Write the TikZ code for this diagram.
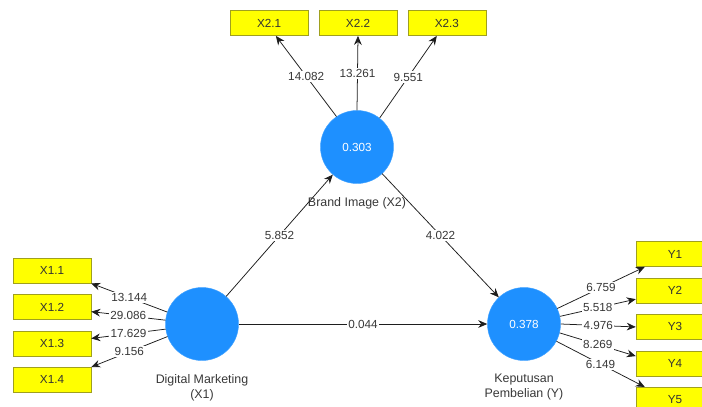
\documentclass[tikz,border=0pt]{standalone}
\usepackage{fontspec}
\setmainfont{Liberation Sans}
\usetikzlibrary{arrows.meta,positioning,calc}
\definecolor{latentblue}{RGB}{30,144,255}
\definecolor{itemyellow}{RGB}{255,255,0}
\definecolor{itemborder}{RGB}{160,160,30}
\definecolor{linkgray}{RGB}{30,30,30}
\def \circleSize {2.19cm}
\def \boxGap {0.32cm}
\def \boxGapX {0.31cm}
\def \captionGap {0.28cm}
\tikzset{
	latent/.style= {circle, fill=latentblue, draw=latentblue!85!white, minimum size=\circleSize, inner sep=0pt, text=white, font=\fontsize{10}{12}\selectfont},
	indicator/.style= {draw=itemborder, fill=itemyellow, rectangle, align=center, minimum width=2.34cm, minimum height=0.76cm, text=black!80, font=\fontsize{10}{12}\selectfont},
	caption/.style= {align=center, text=black!78, font=\fontsize{10.6}{13}\selectfont},
	link/.style= {draw=linkgray, line width=0.65pt, -{Stealth[length=2.7mm, width=2.3mm]}},
	weight/.style= {midway, fill=white, inner sep=1.2pt, text=black!78, font=\fontsize{10}{11}\selectfont}
}

\begin{document}
\begin{tikzpicture}[x=0.03cm, y=-0.03cm]
	\useasboundingbox (0,0) rectangle (702,406);

%%%%%%%%%%%%%%%%%%%%% Latent variables %%%%%%%%%%%%%%%%%%%%%
	\node [latent] (dm) at (202,324) {};
	\node [latent] (bi) at (357,147) {0.303};
	\node [latent] (kp) at (524,324) {0.378};

	\node [caption, below =\captionGap of dm] (dmName) {Digital Marketing\\(X1)};
	\node [caption, below =\captionGap of bi] (biName) {Brand Image (X2)};
	\node [caption, below =\captionGap of kp] (kpName) {Keputusan\\Pembelian (Y)};

%%%%%%%%%%%%%%%%%%%%% Indicators %%%%%%%%%%%%%%%%%%%%%
	\node [indicator] (x11) at (52,270.5) {X1.1};
	\node [indicator, below =\boxGap of x11] (x12) {X1.2};
	\node [indicator, below =\boxGap of x12] (x13) {X1.3};
	\node [indicator, below =\boxGap of x13] (x14) {X1.4};

	\node [indicator] (x22) at (358,23) {X2.2};
	\node [indicator, left =\boxGapX of x22] (x21) {X2.1};
	\node [indicator, right =\boxGapX of x22] (x23) {X2.3};

	\node [indicator] (y1) at (675,254) {Y1};
	\node [indicator, below =\boxGap of y1] (y2) {Y2};
	\node [indicator, below =\boxGap of y2] (y3) {Y3};
	\node [indicator, below =\boxGap of y3] (y4) {Y4};
	\node [indicator, below =\boxGap of y4] (y5) {Y5};

%%%%%%%%%%%%%%%%%%%%% Links %%%%%%%%%%%%%%%%%%%%%
	\draw[link] (dm) -- node[weight] {5.852} (bi);
	\draw[link] (bi) -- node[weight] {4.022} (kp);
	\draw[link] (dm) -- node[weight] {0.044} (kp);

	\draw[link] (dm.161) -- node[weight] {13.144} (x11.south east);
	\draw[link] (dm.174) -- node[weight] {29.086} ([yshift=-0.14cm]x12.east);
	\draw[link] (dm.188) -- node[weight] {17.629} ([yshift=0.15cm]x13.east);
	\draw[link] (dm.200) -- node[weight] {9.156} (x14.north east);

	\draw[link] (bi.124) -- node[weight] {14.082} ([xshift=0.2cm]x21.south);
	\draw[link] (bi.90) -- node[weight] {13.261} (x22.south);
	\draw[link] (bi.52) -- node[weight] {9.551} ([xshift=-0.3cm]x23.south);

	\draw[link] (kp.25) -- node[weight] {6.759} ([xshift=0.27cm]y1.south west);
	\draw[link] (kp.12) -- node[weight] {5.518} ([yshift=-0.26cm]y2.west);
	\draw[link] (kp.0) -- node[weight] {4.976} (y3.west);
	\draw[link] (kp.-14) -- node[weight] {8.269} ([yshift=0.22cm]y4.west);
	\draw[link] (kp.-28) -- node[weight] {6.149} ([xshift=0.27cm]y5.north west);

\end{tikzpicture}
\end{document}
